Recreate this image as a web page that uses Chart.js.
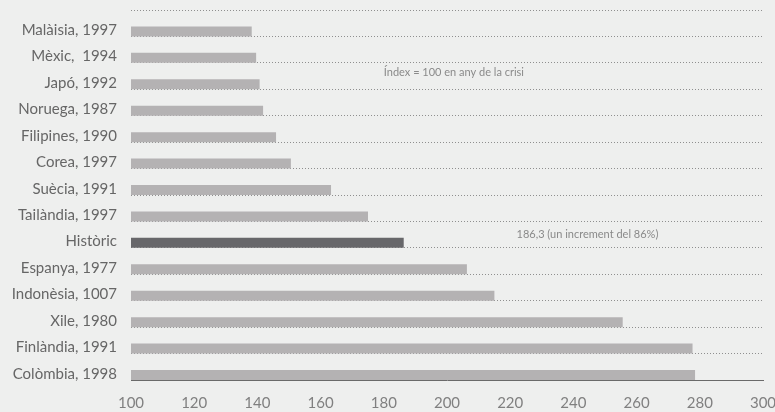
<!DOCTYPE html>
<html>
<head>
<meta charset="utf-8">
<script src="https://cdn.jsdelivr.net/npm/chart.js@4/dist/chart.umd.min.js"></script>
<style>
html,body{margin:0;padding:0;background:#eeefee}
#wrap{width:775px;height:412px}
</style>
</head>
<body>
<div id="wrap"><canvas id="grafico"></canvas></div>
<script>

/* DADES */

const paisos=["Malàisia, 1997","Mèxic,  1994","Japó, 1992","Noruega, 1987","Filipines, 1990","Corea, 1997","Suècia, 1991","Tailàndia, 1997","Històric","Espanya, 1977","Indonèsia, 1007","Xile, 1980","Finlàndia, 1991","Colòmbia, 1998"]

const valors=[138.2,139.6,140.7,141.8,145.9,150.6,163.3,175.0,186.3,206.3,215.0,255.6,277.7,278.5]

const buit=paisos.map(()=>null)

const ticksX=[100,120,140,160,180,200,220,240,260,280,300]

const notes=["Índex = 100 en any de la crisi","186,3 (un increment del 86%)"]

/* COLORS */

const colors=paisos.map(p=>p==="Històric"?"#67676a":"#b4b2b3")

/* TEXTOS */

const textos={
id:"textos",
afterDatasetsDraw(chart){
const c=chart.ctx
const x=chart.scales.x
const y=chart.scales.y
c.save()
c.font="11px Lato"
c.fillStyle="#8a8a8a"
c.textAlign="left"
c.textBaseline="middle"
c.fillText(notes[0],x.getPixelForValue(180),y.getPixelForValue(2)-4)
c.fillText(notes[1],x.getPixelForValue(222),y.getPixelForValue(8))
c.restore()
}
}

/* sense marges extra dels eixos */
const semMarge=(s)=>{s.paddingTop=0;s.paddingBottom=0;s.paddingLeft=0;s.paddingRight=0}

/* GRÀFIC */

const ctx=document.getElementById("grafico")

new Chart(ctx,{

type:"bar",

data:{
labels:paisos,
datasets:[
{data:buit},
{
data:valors,
backgroundColor:colors,
borderWidth:0
}
]
},

options:{
indexAxis:"y",
responsive:true,
maintainAspectRatio:false,
animation:false,
categoryPercentage:1.245,
barPercentage:0.608,
layout:{padding:{top:10,right:12,bottom:0,left:0}},
plugins:{
legend:{display:false},
tooltip:{enabled:false}
},
scales:{
x:{
min:100,
max:300,
afterBuildTicks:(s)=>{s.ticks=ticksX.map(v=>({value:v}))},
afterFit:(s)=>{s.height=32;semMarge(s)},
grid:{display:false},
border:{display:true,color:"#6a6a6a",width:1},
ticks:{color:"#808080",font:{family:"Lato",size:15},padding:6}
},
y:{
afterFit:(s)=>{s.width=131;semMarge(s)},
grid:{offset:true,color:"#8f8f8f",lineWidth:1,drawTicks:false},
border:{display:false,dash:[1,2]},
ticks:{color:"#666666",font:{family:"Lato",size:15},padding:14,labelOffset:7}
}
}
},

plugins:[textos]

})

</script>
</body>
</html>
